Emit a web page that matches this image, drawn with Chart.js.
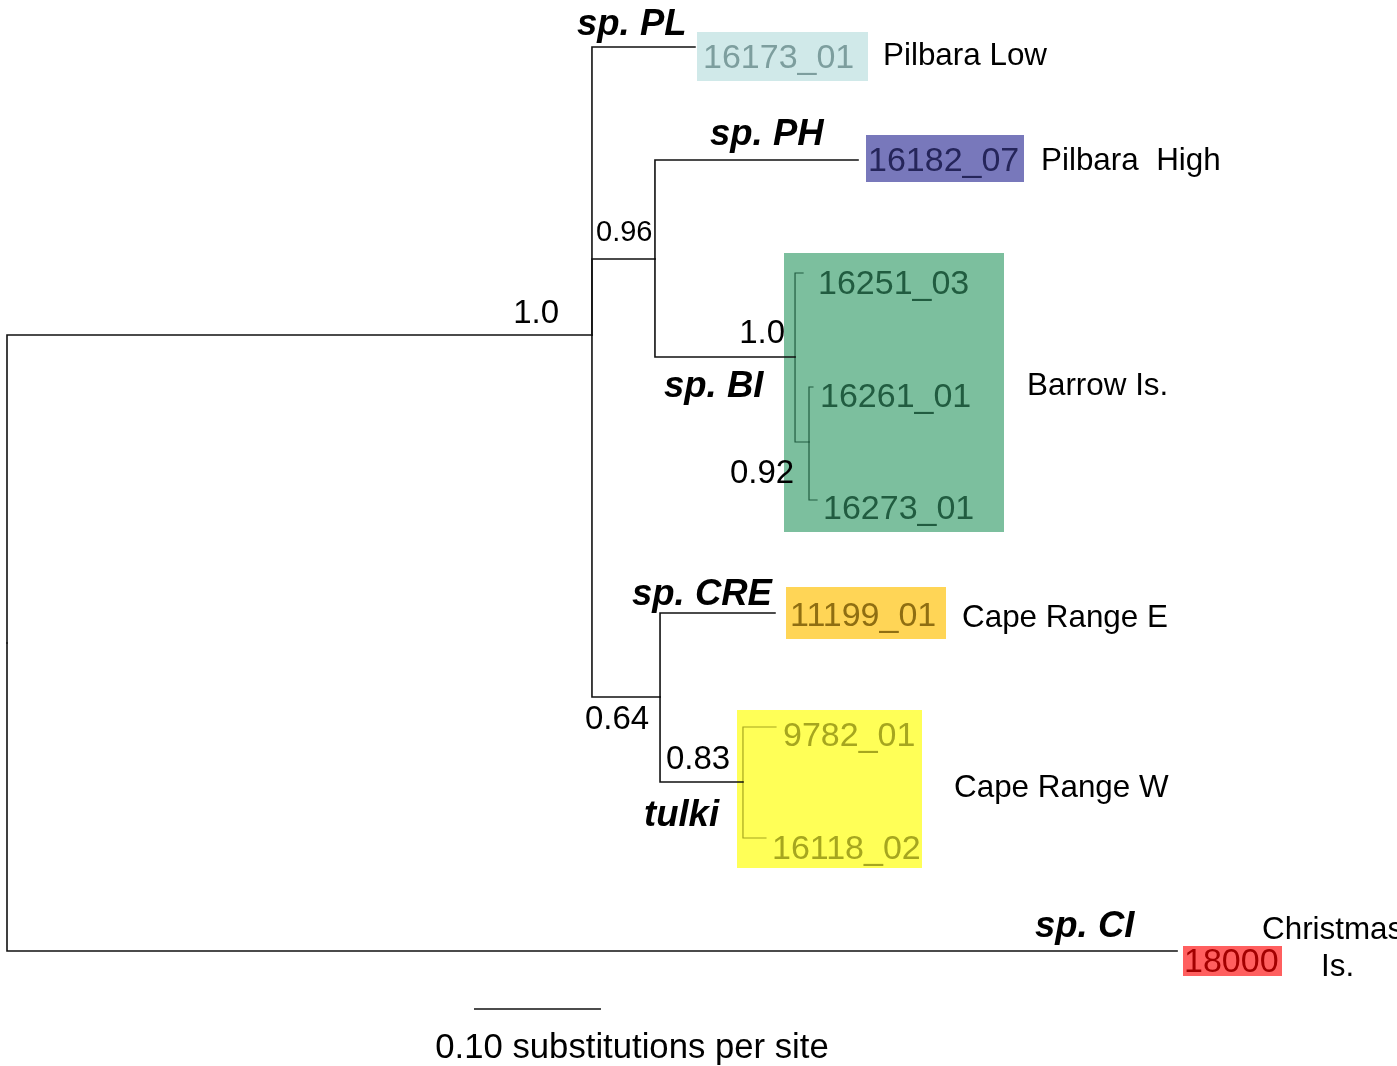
<!DOCTYPE html>
<html>
<head>
<meta charset="utf-8">
<title>Phylogeny</title>
<script src="https://cdn.jsdelivr.net/npm/chart.js@4/dist/chart.umd.min.js"></script>
<style>
  html, body { margin: 0; padding: 0; background: #fff; }
  #wrap { width: 1397px; height: 1066px; }
</style>
</head>
<body>
<div id="wrap"><canvas id="tree" width="1397" height="1066"></canvas></div>
<script>
// Tree data: node ids, parents, depth (substitutions per site from root), vertical row
const nodeIds     = ['root', 'A', 'B', 'BI', 'E', 'D', 'F', '16173_01', '16182_07', '16251_03', '16261_01', '16273_01', '11199_01', '9782_01', '16118_02', '18000'];
const nodeParents = [null, 'root', 'A', 'B', 'BI', 'A', 'D', 'A', 'B', 'BI', 'E', 'E', 'D', 'F', 'F', 'root'];
const nodeDepth   = [0, 0.4606, 0.5102, 0.6205, 0.6315, 0.5142, 0.5795, 0.5417, 0.6701, 0.6268, 0.6346, 0.6378, 0.6047, 0.6055, 0.5976, 0.9213];
const nodeRow     = [643, 335, 259, 357, 442, 697, 782, 47, 160, 273, 387, 500, 613, 727, 838, 951];

// clade membership used for branch colour inside the coloured boxes
const cladeOf = { 'BI': 'sp. BI', 'E': 'sp. BI', '16251_03': 'sp. BI', '16261_01': 'sp. BI', '16273_01': 'sp. BI', '9782_01': 'tulki', '16118_02': 'tulki' };
const innerClade = { '16251_03': 1, 'E': 1, '16261_01': 1, '16273_01': 1, '9782_01': 1, '16118_02': 1 };

// posterior support values on internal nodes
const supportNodes  = ['A', 'B', 'BI', 'E', 'D', 'F'];
const supportValues = ['1.0', '0.96', '1.0', '0.92', '0.64', '0.83'];

const speciesNames = ['sp. PL', 'sp. PH', 'sp. BI', 'sp. CRE', 'tulki', 'sp. CI'];
const localities   = ['Pilbara Low', 'Pilbara  High', 'Barrow Is.', 'Cape Range E', 'Cape Range W', 'Christmas', 'Is.'];

const scaleBarStart = 0.3677;
const scaleBarLength = 0.10;
const scaleBarRow = 1009;

// ---- layout / style (pixels) ----
const boxes = [
  { x0: 697, x1: 868, y0: 32, y1: 81, bg: '#d0e9e9' },
  { x0: 866, x1: 1024, y0: 135, y1: 182, bg: '#7878bb' },
  { x0: 784, x1: 1004, y0: 253, y1: 532, bg: '#7cbf9e' },
  { x0: 786, x1: 946, y0: 587, y1: 639, bg: '#ffd556' },
  { x0: 737, x1: 922, y0: 710, y1: 868, bg: '#ffff57' },
  { x0: 1183, x1: 1282, y0: 946, y1: 976, bg: '#ff5f5f' }
];
const tipText = {
  '16173_01': { x: 703, y: 68, c: '#7d9e9e' },
  '16182_07': { x: 868, y: 171, c: '#25255a' },
  '16251_03': { x: 818, y: 294, c: '#215c40' },
  '16261_01': { x: 820, y: 407, c: '#215c40' },
  '16273_01': { x: 823, y: 519, c: '#215c40' },
  '11199_01': { x: 790, y: 626, c: '#8f6e12' },
  '9782_01':  { x: 783, y: 746, c: '#a6a61f' },
  '16118_02': { x: 772, y: 859, c: '#a6a61f' },
  '18000':    { x: 1184, y: 972, c: '#a30000' }
};
const supportPos = [[559, 323, 'right', 33], [596, 241, 'left', 29], [785, 343, 'right', 33], [730, 483, 'left', 33], [585, 729, 'left', 33], [666, 769, 'left', 33]];
const speciesPos = [[577, 35], [710, 145], [664, 397], [632, 605], [644, 826], [1035, 937]];
const localityPos = [[883, 65], [1041, 170], [1027, 395], [962, 627], [954, 797], [1262, 939], [1321, 976]];

const FONT = '"Liberation Sans", Arial, Helvetica, sans-serif';

// build one elbow dataset per branch
const idx = id => nodeIds.indexOf(id);
const datasets = [];
nodeIds.forEach((id, i) => {
  const p = nodeParents[i];
  if (!p) return;
  const j = idx(p);
  let color = '#111', width = 1.6;
  if (innerClade[id]) {
    color = cladeOf[id] === 'tulki' ? '#a6a61f' : '#215c40';
    width = 1.2;
  }
  datasets.push({
    data: [
      { x: nodeDepth[j], y: nodeRow[j] },
      { x: nodeDepth[j], y: nodeRow[i] },
      { x: nodeDepth[i], y: nodeRow[i] }
    ],
    showLine: true, borderColor: color, borderWidth: width,
    pointRadius: 0, fill: false, tension: 0, borderCapStyle: 'square'
  });
});
// scale bar
datasets.push({
  data: [{ x: scaleBarStart, y: scaleBarRow }, { x: scaleBarStart + scaleBarLength, y: scaleBarRow }],
  showLine: true, borderColor: '#111', borderWidth: 1.6, pointRadius: 0
});

const boxPlugin = {
  id: 'boxes',
  beforeDatasetsDraw(chart) {
    const ctx = chart.ctx;
    ctx.save();
    boxes.forEach(b => {
      ctx.fillStyle = b.bg;
      ctx.fillRect(b.x0, b.y0, b.x1 - b.x0, b.y1 - b.y0);
    });
    ctx.restore();
  }
};

const labelPlugin = {
  id: 'labels',
  afterDatasetsDraw(chart) {
    const ctx = chart.ctx;
    ctx.save();
    ctx.textBaseline = 'alphabetic';

    // tip ids
    ctx.font = '34px ' + FONT;
    ctx.textAlign = 'left';
    Object.keys(tipText).forEach(k => {
      const t = tipText[k];
      ctx.fillStyle = t.c;
      ctx.fillText(k, t.x, t.y);
    });

    // support values
    ctx.fillStyle = '#000';
    supportValues.forEach((v, i) => {
      const s = supportPos[i];
      ctx.font = s[3] + 'px ' + FONT;
      ctx.textAlign = s[2];
      ctx.fillText(v, s[0], s[1]);
    });

    // species names
    ctx.font = 'italic bold 36.5px ' + FONT;
    ctx.textAlign = 'left';
    speciesNames.forEach((n, i) => ctx.fillText(n, speciesPos[i][0], speciesPos[i][1]));

    // localities
    ctx.font = '31.4px ' + FONT;
    localities.forEach((n, i) => ctx.fillText(n, localityPos[i][0], localityPos[i][1]));

    // scale bar caption
    ctx.font = '34.7px ' + FONT;
    ctx.textAlign = 'center';
    ctx.fillText('0.10 substitutions per site', 632, 1058);
    ctx.restore();
  }
};

new Chart(document.getElementById('tree').getContext('2d'), {
  type: 'scatter',
  data: { datasets: datasets },
  options: {
    responsive: false,
    animation: false,
    events: [],
    layout: { padding: 0 },
    plugins: { legend: { display: false }, tooltip: { enabled: false } },
    scales: {
      x: { type: 'linear', display: false, min: -7 / 1270, max: 1390 / 1270 },
      y: { type: 'linear', display: false, min: 0, max: 1066, reverse: true }
    }
  },
  plugins: [boxPlugin, labelPlugin]
});
</script>
</body>
</html>
